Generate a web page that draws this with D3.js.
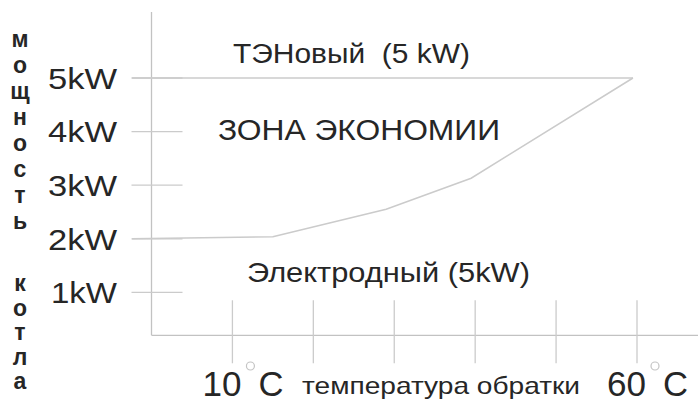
<!DOCTYPE html>
<html>
<head>
<meta charset="utf-8">
<script src="https://cdn.jsdelivr.net/npm/d3@7"></script>
<style>
    html, body { margin: 0; padding: 0; background: #fff; }
    svg { display: block; }
</style>
</head>
<body>
<script>
// chart values
var tempTicks = [10, 20, 30, 40, 50, 60],
    tempLabels = ["10", "", "", "", "", "60"],
    powerTicks = [1, 2, 3, 4, 5],
    powerLabels = ["1kW", "2kW", "3kW", "4kW", "5kW"],
    tenTemp = [-2.4, 59.5],
    tenPower = [5, 5],
    electrodeTemp = [-2.4, 15, 29, 39.5, 59.5],
    electrodePower = [2, 2.04, 2.55, 3.13, 5],
    sideLabel = ["мощность", "котла"];

(function drawChart (window, d3, undefined) {
    "use strict";
    var width = 698,
        height = 405,
        baseline = 0.2,          // x axis sits a little above 0 kW
        lineColor = "#cbcbcb",
        axisColor = "#c2c2c2",
        textColor = "#262626",
        font = "'Liberation Sans', Arial, sans-serif",
        x, y, svg;

    x = d3.scaleLinear().domain([0, 60]).range([151.5, 637]);
    y = d3.scaleLinear().domain([0, 5]).range([346, 78]);

    svg = d3.select("body").append("svg")
        .attr("width", width)
        .attr("height", height)
        .style("font-family", font);

    // the source art is stretched sideways, so texts get a fixed length
    function label (sel, txt, px, len) {
        return sel.append("text")
            .attr("font-size", px)
            .attr("fill", textColor)
            .attr("textLength", len)
            .attr("lengthAdjust", "spacingAndGlyphs")
            .attr("xml:space", "preserve")
            .text(txt);
    }

    // axes
    svg.append("line")
        .attr("x1", x(0)).attr("x2", x(0))
        .attr("y1", 12).attr("y2", y(baseline))
        .attr("stroke", axisColor).attr("stroke-width", 1.3);
    svg.append("line")
        .attr("x1", x(0)).attr("x2", width)
        .attr("y1", y(baseline)).attr("y2", y(baseline))
        .attr("stroke", axisColor).attr("stroke-width", 1.3);

    // y ticks cross the axis
    svg.append("g").selectAll("line")
        .data(powerTicks)
        .join("line")
        .attr("x1", x(0) - 20).attr("x2", x(0) + 31)
        .attr("y1", function (d) { return y(d); })
        .attr("y2", function (d) { return y(d); })
        .attr("stroke", lineColor).attr("stroke-width", 1.3);

    powerTicks.forEach(function (d, i) {
        label(svg, powerLabels[i], 30, d === 1 ? 66 : 69)
            .attr("x", d === 1 ? 51 : 48)
            .attr("y", y(d))
            .attr("dy", "0.36em");
    });

    // x ticks cross the axis too
    svg.append("g").selectAll("line")
        .data(tempTicks)
        .join("line")
        .attr("x1", function (d) { return x(d); })
        .attr("x2", function (d) { return x(d); })
        .attr("y1", y(baseline) - 35).attr("y2", y(baseline) + 28)
        .attr("stroke", lineColor).attr("stroke-width", 1.3);

    // "10 °C" and "60 °C", degree sign is a little grey ring
    tempTicks.forEach(function (d, i) {
        if (!tempLabels[i]) return;
        var g = svg.append("g").attr("transform", "translate(" + x(d) + ",0)");
        label(g, tempLabels[i], 35, 39).attr("x", -30).attr("y", 396);
        g.append("circle")
            .attr("cx", 18).attr("cy", 366).attr("r", 4)
            .attr("fill", "none").attr("stroke", "#c4c4c4").attr("stroke-width", 1.2);
        label(g, "C", 35, 25).attr("x", 26).attr("y", 396);
    });

    label(svg, "температура обратки", 24, 278).attr("x", 302).attr("y", 394);

    // the two boiler lines
    var line = d3.line()
        .x(function (d) { return x(d[0]); })
        .y(function (d) { return y(d[1]); });

    svg.append("path")
        .attr("d", line(d3.zip(tenTemp, tenPower)))
        .attr("fill", "none").attr("stroke", lineColor).attr("stroke-width", 1.5);
    svg.append("path")
        .attr("d", line(d3.zip(electrodeTemp, electrodePower)))
        .attr("fill", "none").attr("stroke", lineColor).attr("stroke-width", 1.5);

    // annotations
    label(svg, "ТЭНовый  (5 kW)", 27, 237).attr("x", 233).attr("y", 63);
    label(svg, "ЗОНА ЭКОНОМИИ", 30, 282).attr("x", 218).attr("y", 140);
    label(svg, "Электродный (5kW)", 28, 283).attr("x", 247).attr("y", 282);

    // vertical side label, one letter per row
    var col = svg.append("g")
        .attr("font-size", 23)
        .attr("font-weight", "bold")
        .attr("fill", textColor)
        .attr("text-anchor", "middle");
    col.selectAll("text.w1")
        .data(sideLabel[0].split(""))
        .join("text")
        .attr("class", "w1")
        .attr("x", 20)
        .attr("y", function (d, i) { return 47 + i * 26; })
        .text(function (d) { return d; });
    col.selectAll("text.w2")
        .data(sideLabel[1].split(""))
        .join("text")
        .attr("class", "w2")
        .attr("x", 20)
        .attr("y", function (d, i) { return 291 + i * 24.5; })
        .text(function (d) { return d; });
})(window, window.d3);
</script>
</body>
</html>
